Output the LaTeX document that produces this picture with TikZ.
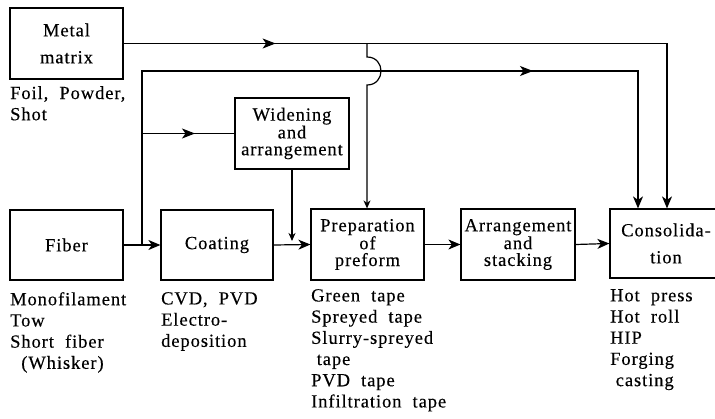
\documentclass[tikz,border=0pt]{standalone}
\usepackage{fontspec}
\setmainfont{Liberation Serif}[LetterSpace=5,FakeBold=0.3]
\usetikzlibrary{arrows.meta,decorations.markings}
\tikzset{
  box/.style={draw, line width=1.2pt, minimum height=70pt, inner sep=0pt, align=center, font=\fontsize{18.5}{16.8}\selectfont},
  lbl/.style={anchor=north west, inner sep=0pt, align=left, font=\fontsize{18.5}{21.2}\selectfont},
  conn/.style={line width=1.2pt},
  bigtip/.style={-{Stealth[length=12pt,width=10pt,inset=3.5pt]}},
  smalltip/.style={-{Stealth[length=8pt,width=7pt,inset=2.5pt]}},
  midtip/.style={postaction={decorate}, decoration={markings, mark=at position #1 with {\arrow{Stealth[length=13pt,width=10pt,inset=3.5pt]}}}}
}
\begin{document}
\begin{tikzpicture}[x=1pt,y=-1pt]
\useasboundingbox (0,0) rectangle (715,419);
\clip (0,0) rectangle (715,419);
% boxes
\node[box, minimum width=113pt, minimum height=71pt, font=\fontsize{18.5}{27}\selectfont] (metal) at (66.5,43.5) {Metal\\matrix};
\node[box, minimum width=114pt, minimum height=71pt] (widen) at (292,133.5) {Widening\\and\\arrangement};
\node[box, minimum width=113pt] (fiber) at (66.5,245) {Fiber};
\node[box, minimum width=112pt] (coat) at (217,245) {Coating};
\node[box, minimum width=113pt, minimum height=71pt] (prep) at (367.5,244.5) {Preparation\\of\\preform};
\node[box, minimum width=114pt, minimum height=71pt] (arr) at (518,244.5) {Arrangement\\and\\stacking};
\node[box, minimum width=112pt, minimum height=69pt, font=\fontsize{18.5}{27}\selectfont] (cons) at (666,243.5) {Consolida-\\tion};
% labels
\node[lbl] (lmetal) at (10,86) {Foil, \ Powder,\\Shot};
\node[lbl] (lfiber) at (10,292) {Monofilament\\Tow\\Short \ fiber\\\ \ (Whisker)};
\node[lbl] (lcoat) at (161,292) {CVD, \ PVD\\Electro-\\deposition};
\node[lbl] (lprep) at (311,289) {Green \ tape\\Spreyed \ tape\\Slurry-spreyed\\\ tape\\PVD \ tape\\Infiltration \ tape};
\node[lbl] (lcons) at (610,289) {Hot \ press\\Hot \ roll\\HIP\\Forging\\\ casting};
% junction coordinates
\coordinate (j1) at (142,245);
\coordinate (j2) at (142,133.5);
\coordinate (j3) at (367,43.5);
\coordinate (wend) at (292,241);
% connectors
\draw[conn,bigtip] (fiber.east) -- (coat.west);
\draw[conn,bigtip] (coat.east) -- (prep.west);
\draw[conn,bigtip] (prep.east) -- (arr.west);
\draw[conn,bigtip] (arr.east) -- (cons.west);
\draw[conn,bigtip,midtip=152pt] (metal.east) -- (667,43.5) -- (cons.north -| 667,0);
\draw[conn,bigtip,midtip=565pt] (j1) -- (142,71) -- (638,71) -- (cons.north -| 638,0);
\draw[conn,midtip=53pt] (j2) -- (widen.west);
\draw[conn,smalltip] (widen.south) -- (wend);
\draw[conn,smalltip] (j3) -- (367,57) .. controls (385.7,57) and (385.7,85) .. (367,85) -- (prep.north -| 367,0);
\end{tikzpicture}
\end{document}
